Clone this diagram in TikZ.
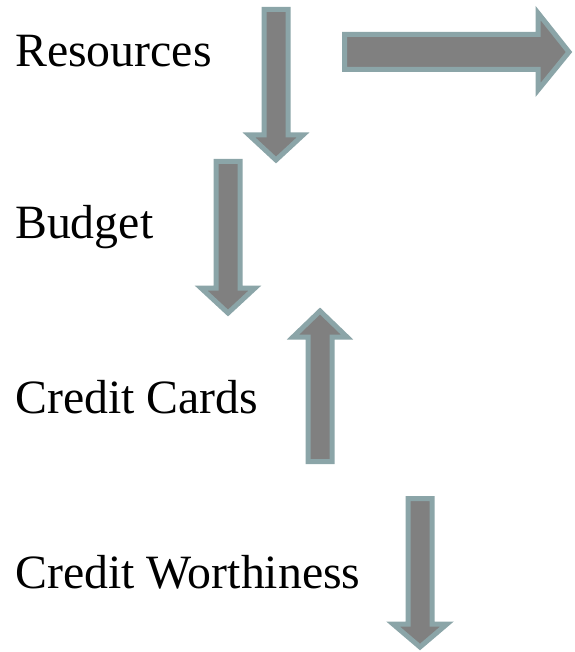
\documentclass[tikz,border=0pt]{standalone}
\usepackage{fontspec}
\setmainfont{Liberation Serif}
\begin{document}
\definecolor{arrowfill}{HTML}{808080}
\definecolor{arrowedge}{HTML}{8BA5A8}
\begin{tikzpicture}[x=1pt,y=-1pt,
  blockarrow/.style={fill=arrowfill,draw=arrowedge,line width=5pt,line join=miter},
  label/.style={anchor=base west,inner sep=0pt,font=\fontsize{47.8}{56}\selectfont}]
\useasboundingbox (0,0) rectangle (574,652);
% vertical block arrow pointing down: #1 centre x, #2 top, #3 head base, #4 tip
\newcommand{\downblock}[4]{%
  \draw[blockarrow] (#1-12,#2) -- (#1+12,#2) -- (#1+12,#3) -- (#1+27,#3)
    -- (#1,#4) -- (#1-27,#3) -- (#1-12,#3) -- cycle;}
% labels
\node[label] (res) at (15,66.5) {Resources};
\node[label] (bud) at (15,238) {Budget};
\node[label] (cc)  at (15,413) {Credit Cards};
\node[label] (cw)  at (15,588) {Credit Worthiness};
% arrows
\downblock{276}{9.5}{135}{160}
\downblock{228}{161.5}{288}{313}
\downblock{420}{498.5}{624}{647}
% upward arrow
\draw[blockarrow] (308,461.5) -- (332,461.5) -- (332,337) -- (347,337)
  -- (320,311) -- (293,337) -- (308,337) -- cycle;
% right arrow
\draw[blockarrow] (344.5,34.5) -- (538,34.5) -- (538,13) -- (569,52)
  -- (538,90) -- (538,69.5) -- (344.5,69.5) -- cycle;
\end{tikzpicture}
\end{document}
